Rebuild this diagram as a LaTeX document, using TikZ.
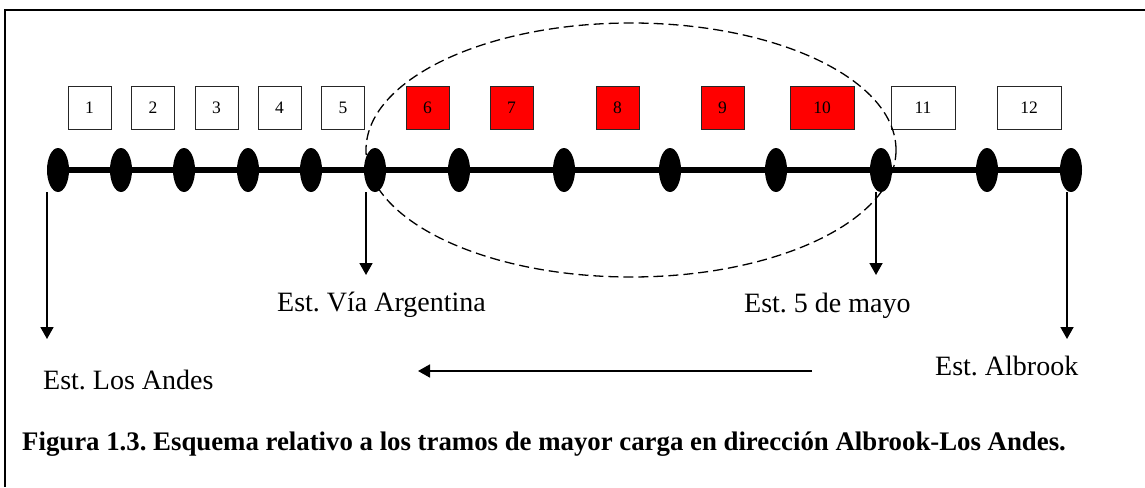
\documentclass[tikz,border=0pt]{standalone}
\usepackage{fontspec}
\setmainfont{Liberation Serif}
\usetikzlibrary{shapes.geometric,arrows.meta}
\frenchspacing

\tikzset{
  parada/.style={ellipse, fill=black, inner sep=0pt, minimum width=22pt, minimum height=44pt},
  tramo/.style={draw=black!85, line width=1pt, inner sep=0pt, minimum width=43pt, minimum height=43pt, font=\fontsize{17.5}{20}\selectfont},
  cargado/.style={tramo, fill=red},
  flecha/.style={line width=1.8pt, -{Triangle[length=12pt,width=13pt]}},
  estacion/.style={anchor=base west, inner sep=0pt, font=\fontsize{28}{32}\selectfont}
}

\begin{document}
\begin{tikzpicture}[x=1pt,y=-1pt]
\useasboundingbox (0,0) rectangle (1145,487);
\draw[line width=2pt] (1145,10) -- (5,10) -- (5,487);

% estaciones de la linea
\node[parada] (e1) at (58,170) {};
\node[parada] (e2) at (121,170) {};
\node[parada] (e3) at (184,170) {};
\node[parada] (e4) at (248,170) {};
\node[parada] (e5) at (311,170) {};
\node[parada] (e6) at (375,170) {};
\node[parada] (e7) at (459,170) {};
\node[parada] (e8) at (564,170) {};
\node[parada] (e9) at (670,170) {};
\node[parada] (e10) at (776,170) {};
\node[parada] (e11) at (881,170) {};
\node[parada] (e12) at (987,170) {};
\node[parada] (e13) at (1071,170) {};
\path[draw,line width=6pt] (e1) -- (e13);

% tramos
\node[tramo] (t1) at (89.5,107.5) {1};
\node[tramo] (t2) at (153,107.5) {2};
\node[tramo] (t3) at (216.5,107.5) {3};
\node[tramo] (t4) at (279.5,107.5) {4};
\node[tramo] (t5) at (343,107.5) {5};
\node[cargado] (t6) at (427.5,107.5) {6};
\node[cargado] (t7) at (511.5,107.5) {7};
\node[cargado] (t8) at (617.5,107.5) {8};
\node[cargado] (t9) at (722.5,107.5) {9};
\node[cargado, minimum width=64pt] (t10) at (822,107.5) {10};
\node[tramo, minimum width=64pt] (t11) at (923,107.5) {11};
\node[tramo, minimum width=64pt] (t12) at (1029,107.5) {12};

% zona de mayor carga
\node[ellipse, draw, line width=1.3pt, dash pattern=on 10pt off 5pt, minimum width=530pt, minimum height=254pt] (zona) at (631,150) {};

% nombres de estaciones
\coordinate (pAndes) at (47,339);
\coordinate (pVia) at (366,275);
\coordinate (pMayo) at (876,275);
\coordinate (pAlbrook) at (1067,339);
\path[draw,flecha] (e1.south -| pAndes) -- (pAndes);
\path[draw,flecha] (e6.south -| pVia) -- (pVia);
\path[draw,flecha] (e11.south -| pMayo) -- (pMayo);
\path[draw,flecha] (e13.south -| pAlbrook) -- (pAlbrook);

\node[estacion] (andes) at (43,389) {Est. Los Andes};
\node[estacion] (via) at (277,311) {Est. Vía Argentina};
\node[estacion] (mayo) at (744,312) {Est. 5 de mayo};
\node[estacion] (albrook) at (935,375) {Est. Albrook};

% sentido
\coordinate (desde) at (812,371);
\coordinate (hasta) at (418,371);
\path[draw,flecha] (desde) -- (hasta);

\node[estacion, font=\fontsize{26.8}{32}\selectfont\bfseries] (pie) at (22,450) {Figura 1.3. Esquema relativo a los tramos de mayor carga en dirección Albrook-Los Andes.};
\end{tikzpicture}
\end{document}
